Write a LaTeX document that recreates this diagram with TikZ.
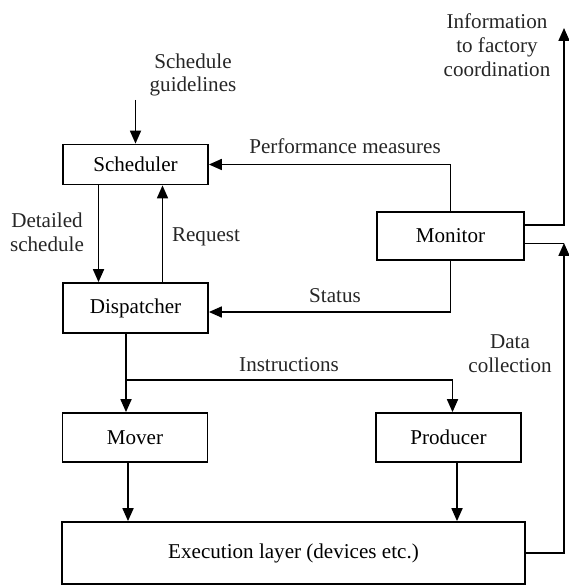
\documentclass[tikz,border=0pt]{standalone}
\usepackage{fontspec}
\setmainfont{Liberation Serif}
\usepackage{tikz}
\usetikzlibrary{arrows.meta}

\begin{document}
\begin{tikzpicture}[x=0.02cm,y=-0.02cm,
  font=\fontsize{12}{13.5}\selectfont,
  blk/.style={draw, line width=1pt, inner sep=0pt, minimum width=2.9cm},
  arr/.style={line width=1pt, -{Triangle[length=2.6mm,width=2.2mm]}},
  lbl/.style={align=center, inner sep=0pt, text=black!85}]
\useasboundingbox (0,0) rectangle (568,587);

% boxes
\node (sched) at (135.5,164.5) [blk, minimum height=0.8cm] {Scheduler};
\node (disp) at (135.5,308) [blk, minimum height=1cm] {Dispatcher};
\node (mon) at (450.5,236) [blk, minimum width=2.94cm, minimum height=0.96cm] {Monitor};
\node (mover) at (135,437.5) [blk, minimum height=0.98cm] {Mover};
\node (prod) at (448.5,437.5) [blk, minimum height=0.98cm] {Producer};
\node (exec) at (293.5,553) [blk, minimum width=9.26cm, minimum height=1.24cm] {Execution layer (devices etc.)};

% labels
\node (guide) at (193,75) [lbl] {Schedule\\guidelines};
\node (perf) at (345,146) [lbl] {Performance measures};
\node (detail) at (47,232) [lbl] {Detailed\\schedule};
\node (req) at (206,237) [lbl] {Request};
\node (stat) at (335,296) [lbl] {Status};
\node (instr) at (289,365) [lbl] {Instructions};
\node (data) at (510,354) [lbl] {Data\\collection};
\node (info) at (497,45) [lbl] {Information\\to factory\\coordination};

\coordinate (infoend) at (564,28);
\coordinate (dc) at (564,243);
\coordinate (br) at (126,380);

% connectors
\draw [arr] (sched.north |- guide.south) ++(0,3) -- (sched.north);
\draw [arr] ([xshift=-0.74cm]sched.south) -- ([xshift=-0.74cm]disp.north);
\draw [arr] ([xshift=0.54cm]disp.north) -- ([xshift=0.54cm]sched.south);
\draw [arr] (mon.north) |- (sched.east);
\draw [arr] (mon.south) |- ([yshift=-0.08cm]disp.east);
\draw [arr] ([yshift=0.22cm]mon.east) -| (infoend);
\draw (mon.east |- dc) -- (dc);
\draw [arr] (exec.east) -| (dc);
\draw [arr] (br |- disp.south) -- (br |- mover.north);
\draw [arr] (br) -| ([xshift=0.08cm]prod.north);
\draw [arr] ([xshift=-0.14cm]mover.south) -- ([xshift=-0.14cm]mover.south |- exec.north);
\draw [arr] ([xshift=0.17cm]prod.south) -- ([xshift=0.17cm]prod.south |- exec.north);
\end{tikzpicture}
\end{document}
